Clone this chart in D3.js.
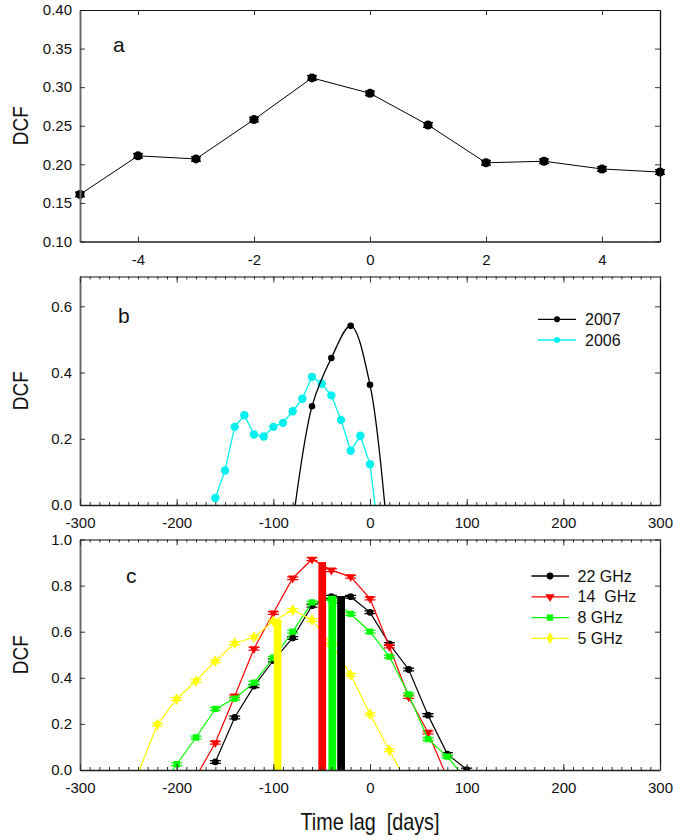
<!DOCTYPE html>
<html><head><meta charset="utf-8">
<script src="https://cdn.jsdelivr.net/npm/d3@7"></script>
<style>
body{margin:0;background:#fff;}
text{font-family:"Liberation Sans",Arial,Helvetica,sans-serif;fill:#111;}
</style>
</head><body>
<svg id="chart" width="673" height="840"></svg>
<script>
// ---------- DATA ----------
// Panel a
const aLags = [-5,-4,-3,-2,-1,0,1,2,3,4,5];
const aDcf  = [0.161,0.211,0.207,0.258,0.312,0.292,0.251,0.202,0.204,0.194,0.190];
const aErr  = [0.003,0.003,0.003,0.003,0.003,0.003,0.003,0.003,0.003,0.003,0.003];
const aXTicks = [-4,-2,0,2,4];
const aYTicks = [0.10,0.15,0.20,0.25,0.30,0.35,0.40];

// Panel b (points outside the visible range only extend the curve to the axis)
const b2007Lags = [-80,-60,-40,-20,0,20];
const b2007Dcf  = [-0.06,0.298,0.444,0.541,0.363,-0.16];
const b2006Lags = [-160,-150,-140,-130,-120,-110,-100,-90,-80,-70,-60,-50,-40,-30,-20,-10,0,10];
const b2006Dcf  = [0.021,0.104,0.236,0.271,0.213,0.207,0.236,0.248,0.283,0.321,0.387,0.366,0.331,0.257,0.164,0.209,0.123,-0.114];
const bYTicks = [0,0.2,0.4,0.6];
const lagTicks = [-300,-200,-100,0,100,200,300];

// Panel c
const c22Lags = [-160,-140,-120,-100,-80,-60,-40,-20,0,20,40,60,80,100];
const c22Dcf  = [0.035,0.228,0.364,0.475,0.573,0.713,0.752,0.752,0.684,0.547,0.436,0.238,0.069,0.002];
const c14Lags = [-180,-160,-140,-120,-100,-80,-60,-40,-20,0,20,40,60,80];
const c14Dcf  = [-0.030,0.118,0.320,0.526,0.681,0.832,0.914,0.867,0.838,0.744,0.536,0.317,0.163,-0.035];
const c8Lags  = [-220,-200,-180,-160,-140,-120,-100,-80,-60,-40,-20,0,20,40,60,80,100];
const c8Dcf   = [-0.100,0.025,0.141,0.265,0.310,0.379,0.487,0.600,0.727,0.742,0.677,0.600,0.492,0.328,0.134,0.058,-0.044];
const c5Lags  = [-240,-220,-200,-180,-160,-140,-120,-100,-80,-60,-40,-20,0,20,40];
const c5Dcf   = [-0.015,0.197,0.308,0.386,0.472,0.550,0.576,0.645,0.694,0.651,0.545,0.413,0.242,0.086,-0.070];
const cErr = 0.006;
const cYTicks = [0,0.2,0.4,0.6,0.8,1.0];
const barNames  = ["5 GHz","14  GHz","8 GHz","22 GHz"];
const barLags   = [-95.6,-49.4,-39.0,-29.9];
const barDcf    = [0.653,0.902,0.755,0.752];
const barWidthDays = 8;

const legendB = ["2007","2006"];
const legendC = ["22 GHz","14  GHz","8 GHz","5 GHz"];

// ---------- LAYOUT ----------
const svg = d3.select("#chart");
const X0 = 80, X1 = 660;
const panels = {
  a:{top:10, bottom:241.5},
  b:{top:276.5, bottom:505},
  c:{top:539.5, bottom:770}
};
const FS = 15;
const plainInt = d => String(d);

function frame(g, x, y, xTicks, yTicks, yFmt, xFmt, minor){
  const p = {top:y.range()[1], bottom:y.range()[0]};
  const left = d3.axisLeft(y).tickValues(yTicks).tickSize(-5).tickSizeOuter(0).tickPadding(8).tickFormat(yFmt);
  const right = d3.axisRight(y).tickValues(yTicks).tickSize(-5).tickSizeOuter(0).tickFormat("");
  const bottom = d3.axisBottom(x).tickValues(xTicks).tickSize(minor? -6 : -5).tickSizeOuter(0).tickPadding(12.5).tickFormat(xFmt);
  const top = d3.axisTop(x).tickValues(xTicks).tickSize(minor? -6 : -5).tickSizeOuter(0).tickFormat("");
  if(minor){
    g.append("g").attr("transform",`translate(0,${p.bottom})`)
      .call(d3.axisBottom(x).tickValues(minor).tickSize(-3).tickSizeOuter(0).tickFormat(""))
      .call(s=>s.select(".domain").remove()).selectAll("line").attr("stroke","#333");
    g.append("g").attr("transform",`translate(0,${p.top})`)
      .call(d3.axisTop(x).tickValues(minor).tickSize(-3).tickSizeOuter(0).tickFormat(""))
      .call(s=>s.select(".domain").remove()).selectAll("line").attr("stroke","#333");
  }
  const gl = g.append("g").attr("transform",`translate(${X0},0)`).call(left);
  const gr = g.append("g").attr("transform",`translate(${X1},0)`).call(right);
  const gb = g.append("g").attr("transform",`translate(0,${p.bottom})`).call(bottom);
  const gt = g.append("g").attr("transform",`translate(0,${p.top})`).call(top);
  [gl,gr,gb,gt].forEach(s=>{
    s.selectAll("text").attr("font-size",FS).attr("font-family",null).attr("fill","#111");
    s.selectAll(".tick line").attr("stroke","#333");
  });
  gl.select(".domain").attr("stroke","#6a6a6a").attr("stroke-width",2);
  gr.select(".domain").attr("stroke","#111").attr("stroke-width",1.3);
  gb.select(".domain").attr("stroke","#222").attr("stroke-width",1.5);
  gt.select(".domain").attr("stroke","#111").attr("stroke-width",1.2);
}

function clip(id, y){
  svg.append("clipPath").attr("id",id).append("rect")
    .attr("x",X0).attr("y",y.range()[1]).attr("width",X1-X0).attr("height",y.range()[0]-y.range()[1]);
}

function yLabel(p){
  svg.append("text").attr("transform",`translate(20,${(p.top+p.bottom)/2}) rotate(-90)`)
    .attr("text-anchor","middle").attr("dominant-baseline","central")
    .attr("font-size",22).attr("textLength",39).attr("lengthAdjust","spacingAndGlyphs").text("DCF");
}

function errBars(g, pts, x, y, color, capW){
  pts.forEach(d=>{
    const cx = x(d[0]);
    g.append("line").attr("x1",cx).attr("x2",cx).attr("y1",y(d[1]-d[2])).attr("y2",y(d[1]+d[2])).attr("stroke",color).attr("stroke-width",1.2);
    [d[1]-d[2], d[1]+d[2]].forEach(v=>{
      g.append("line").attr("x1",cx-capW).attr("x2",cx+capW).attr("y1",y(v)).attr("y2",y(v)).attr("stroke",color).attr("stroke-width",1.3);
    });
  });
}

// ---------- PANEL A ----------
{
  const p = panels.a;
  const x = d3.scaleLinear().domain([-5,5]).range([X0,X1]);
  const y = d3.scaleLinear().domain([0.10,0.40]).range([p.bottom,p.top]);
  clip("clipA", y);
  const g = svg.append("g");
  const pts = aLags.map((l,i)=>[l,aDcf[i],aErr[i]]);
  const gd = g.append("g");
  gd.append("path").datum(pts).attr("fill","none").attr("stroke","#000").attr("stroke-width",1)
    .attr("d", d3.line().x(d=>x(d[0])).y(d=>y(d[1])));
  errBars(gd, pts, x, y, "#000", 5);
  gd.selectAll("circle").data(pts).join("circle").attr("cx",d=>x(d[0])).attr("cy",d=>y(d[1])).attr("r",4.5).attr("fill","#000");
  frame(g, x, y, aXTicks, aYTicks, d3.format(".2f"), plainInt, null);
  yLabel(p);
  svg.append("text").attr("x",113).attr("y",52).attr("font-size",21).text("a");
}

// ---------- PANEL B ----------
{
  const p = panels.b;
  const x = d3.scaleLinear().domain([-300,300]).range([X0,X1]);
  const y = d3.scaleLinear().domain([0,0.69]).range([p.bottom,p.top]);
  clip("clipB", y);
  const g = svg.append("g");
  const gd = g.append("g").attr("clip-path","url(#clipB)");
  const p07 = b2007Lags.map((l,i)=>[l,b2007Dcf[i]]);
  const p06 = b2006Lags.map((l,i)=>[l,b2006Dcf[i]]);
  gd.append("path").datum(p06).attr("fill","none").attr("stroke","#00f0f0").attr("stroke-width",1.3)
    .attr("d", d3.line().x(d=>x(d[0])).y(d=>y(d[1])));
  gd.selectAll(".c06").data(p06.filter(d=>d[1]>=0)).join("circle").attr("cx",d=>x(d[0])).attr("cy",d=>y(d[1])).attr("r",4.2).attr("fill","#00f0f0");
  gd.append("path").datum(p07).attr("fill","none").attr("stroke","#000").attr("stroke-width",1.3)
    .attr("d", d3.line().curve(d3.curveCatmullRom.alpha(0.5)).x(d=>x(d[0])).y(d=>y(d[1])));
  gd.selectAll(".c07").data(p07.filter(d=>d[1]>=0)).join("circle").attr("cx",d=>x(d[0])).attr("cy",d=>y(d[1])).attr("r",3.3).attr("fill","#000");
  frame(g, x, y, lagTicks, bYTicks, d3.format(".1f"), plainInt, d3.range(-300,301,10));
  yLabel(p);
  svg.append("text").attr("x",118).attr("y",323).attr("font-size",21).text("b");
  const cols = ["#000","#00f0f0"];
  legendB.forEach((t,i)=>{
    const ly = 319.3 + i*20.7;
    svg.append("line").attr("x1",538).attr("x2",576).attr("y1",ly).attr("y2",ly).attr("stroke",cols[i]).attr("stroke-width",1.3);
    svg.append("circle").attr("cx",557).attr("cy",ly).attr("r",3).attr("fill",cols[i]);
    svg.append("text").attr("x",585).attr("y",ly).attr("dominant-baseline","central").attr("font-size",16).text(t);
  });
}

// ---------- PANEL C ----------
{
  const p = panels.c;
  const x = d3.scaleLinear().domain([-300,300]).range([X0,X1]);
  const y = d3.scaleLinear().domain([0,1.0]).range([p.bottom,p.top]);
  clip("clipC", y);
  const g = svg.append("g");
  const gd = g.append("g").attr("clip-path","url(#clipC)");
  const series = [
    {name:legendC[0], lags:c22Lags, vals:c22Dcf, color:"#000", sym:d3.symbolCircle, size:36, rot:0},
    {name:legendC[1], lags:c14Lags, vals:c14Dcf, color:"#ff0000", sym:d3.symbolTriangle, size:36, rot:180},
    {name:legendC[2], lags:c8Lags,  vals:c8Dcf,  color:"#00ff00", sym:d3.symbolSquare, size:40, rot:0},
    {name:legendC[3], lags:c5Lags,  vals:c5Dcf,  color:"#ffff00", sym:d3.symbolDiamond, size:40, rot:0}
  ];
  series.forEach(s=>{
    const pts = s.lags.map((l,i)=>[l,s.vals[i],cErr]);
    gd.append("path").datum(pts).attr("fill","none").attr("stroke",s.color).attr("stroke-width",1.2)
      .attr("d", d3.line().x(d=>x(d[0])).y(d=>y(d[1])));
    const vis = pts.filter(d=>d[1]>=0);
    errBars(gd, vis, x, y, s.color, 5.5);
    gd.selectAll(null).data(vis).join("path")
      .attr("d", d3.symbol().type(s.sym).size(s.size))
      .attr("transform", d=>`translate(${x(d[0])},${y(d[1])}) rotate(${s.rot})`)
      .attr("fill", s.color);
  });
  const barCols = ["#ffff00","#ff0000","#00ff00","#000000"];
  const bw = x(barWidthDays) - x(0);
  gd.selectAll(".bar").data(barLags.map((l,i)=>[l,barDcf[i],barCols[i]])).join("rect")
    .attr("x",d=>x(d[0])-bw/2).attr("width",bw)
    .attr("y",d=>y(d[1])).attr("height",d=>y(0)-y(d[1]))
    .attr("fill",d=>d[2]);
  frame(g, x, y, lagTicks, cYTicks, d3.format(".1f"), plainInt, d3.range(-300,301,10));
  yLabel(p);
  svg.append("text").attr("x",126).attr("y",583).attr("font-size",21).text("c");
  series.forEach((s,i)=>{
    const ly = 576 + i*20.8;
    svg.append("line").attr("x1",531.5).attr("x2",569).attr("y1",ly).attr("y2",ly).attr("stroke",s.color).attr("stroke-width",1.3);
    svg.append("path").attr("d", d3.symbol().type(s.sym).size(s.size)).attr("transform",`translate(550,${ly}) rotate(${s.rot})`).attr("fill",s.color);
    svg.append("text").attr("x",577.5).attr("y",ly).attr("dominant-baseline","central").attr("font-size",16)
      .style("white-space","pre").text(s.name);
  });
  svg.append("text").attr("x",370).attr("y",830).attr("text-anchor","middle").attr("font-size",24)
    .attr("textLength",139).attr("lengthAdjust","spacingAndGlyphs").style("white-space","pre").text("Time lag  [days]");
}
</script>
</body></html>
